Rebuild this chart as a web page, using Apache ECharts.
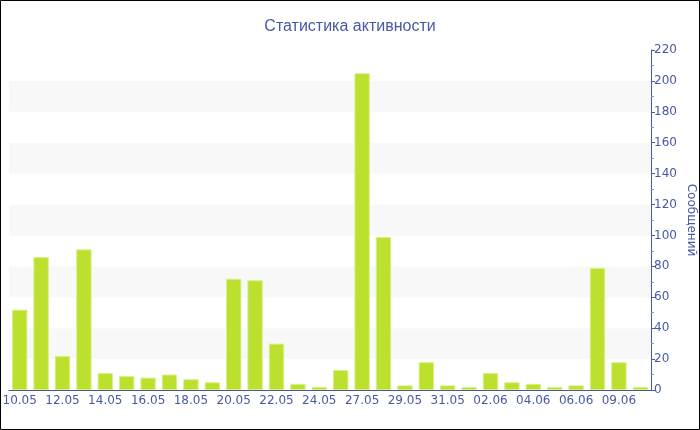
<!DOCTYPE html>
<html>
<head>
<meta charset="utf-8">
<script src="https://cdn.jsdelivr.net/npm/echarts@6/dist/echarts.min.js"></script>
<style>
html,body{margin:0;padding:0;background:#fff;}
#chart{width:700px;height:430px;}
</style>
</head>
<body>
<div id="chart"></div>
<script>
const titleText = 'Статистика активности';
const axisName = 'Сообщений';
const categories = ['10.05','11.05','12.05','13.05','14.05','15.05','16.05','17.05','18.05','19.05',
  '20.05','21.05','22.05','23.05','24.05','26.05','27.05','28.05','29.05','30.05',
  '31.05','01.06','02.06','03.06','04.06','05.06','06.06','08.06','09.06','10.06'];
const messages = [52,86,22,91,11,9,8,10,7,5,72,71,30,4,2,13,205,99,3,18,3,2,11,5,4,2,3,79,18,2];
const yMin = 0, yMax = 220, yStep = 20;

const blue = '#4858a4';
const chart = echarts.init(document.getElementById('chart'), null, {renderer:'canvas'});
chart.setOption({
  animation:false,
  backgroundColor:'#fff',
  textStyle:{fontFamily:'DejaVu Sans'},
  title:{text:titleText,left:'center',top:14,
    textStyle:{color:blue,fontSize:16,fontWeight:'normal',fontFamily:'Liberation Sans'}},
  graphic:[{type:'rect',shape:{x:0.5,y:0.5,width:699,height:429},
    style:{fill:'none',stroke:'#000',lineWidth:1},silent:true,z:100}],
  grid:{left:9,right:49,top:50,bottom:40,containLabel:false,outerBoundsMode:'none'},
  xAxis:{type:'category',data:categories,
    axisLine:{lineStyle:{color:blue,width:1}},
    axisTick:{alignWithLabel:true,interval:1,length:4,lineStyle:{color:blue}},
    axisLabel:{interval:1,color:blue,fontSize:12,fontFamily:'DejaVu Sans',margin:5},
    splitLine:{show:false}},
  yAxis:{type:'value',position:'right',min:yMin,max:yMax,interval:yStep,
    name:axisName,nameLocation:'middle',nameRotate:-90,nameGap:34,nameMoveOverlap:false,
    nameTextStyle:{color:blue,fontSize:12,fontFamily:'DejaVu Sans'},
    axisLine:{show:true,lineStyle:{color:blue,width:1}},
    axisTick:{show:true,length:4,lineStyle:{color:blue}},
    minorTick:{show:true,splitNumber:2,length:3,lineStyle:{color:'#8a94c0'}},
    axisLabel:{color:blue,fontSize:12,fontFamily:'DejaVu Sans',margin:3},
    splitLine:{show:false},
    splitArea:{show:true,areaStyle:{color:['#ffffff','#f8f8f8']}}},
  series:[{type:'bar',data:messages,barCategoryGap:'28%',
    itemStyle:{color:'#bce02e',borderColor:'#d9ef8a',borderWidth:1}}]
});
</script>
</body>
</html>
